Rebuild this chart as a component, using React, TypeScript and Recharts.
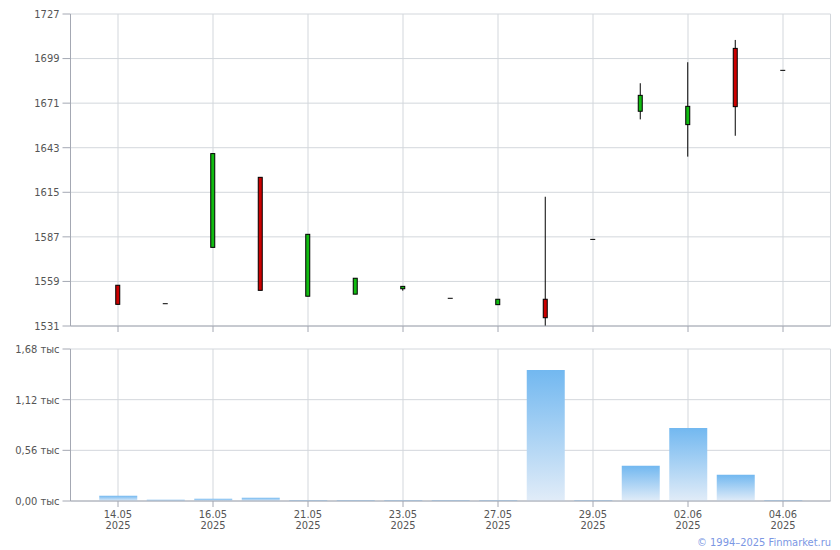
import { ComposedChart, Bar, XAxis, YAxis, CartesianGrid } from "recharts"

// 15 trading days, 14.05 – 04.06.2025
const dates = ["14.05", "15.05", "16.05", "20.05", "21.05", "22.05", "23.05", "26.05", "27.05", "28.05", "29.05", "30.05", "02.06", "03.06", "04.06"]
const year = "2025"
const opens = [1556.6, 1545, 1580.4, 1624.4, 1549.7, 1551, 1554.4, 1548.4, 1544.4, 1547.8, 1585.4, 1665.9, 1657.5, 1705.4, 1691.6]
const closes = [1544.6, 1545, 1639.3, 1553.4, 1588.6, 1561, 1555.9, 1548.4, 1547.8, 1536.2, 1585.4, 1675.9, 1669, 1668.8, 1691.6]
const highs = [1556.6, 1545, 1639.3, 1624.4, 1588.6, 1561, 1555.9, 1548.4, 1547.8, 1612.2, 1585.4, 1683.5, 1696.7, 1710.7, 1691.6]
const lows = [1544.6, 1545, 1580.4, 1553.4, 1549.7, 1551, 1553.2, 1548.4, 1544.4, 1531, 1585.4, 1660.8, 1637.4, 1650.5, 1691.6]
const volumes = [58, 14, 25, 36, 12, 12, 12, 12, 12, 1448, 12, 389, 808, 290, 12]

const priceTicks = [1531, 1559, 1587, 1615, 1643, 1671, 1699, 1727]
const volumeTicks = [0, 560, 1120, 1680]
const dateTicks = [1, 3, 5, 7, 9, 11, 13, 15]

const data = dates.map((d, i) => ({
  x: i + 1,
  open: opens[i],
  close: closes[i],
  high: highs[i],
  low: lows[i],
  range: [lows[i], highs[i]],
  volume: volumes[i],
}))

const FONT = "'DejaVu Sans Condensed', Tahoma, Verdana, sans-serif"
const AXIS = "#a4a8b3"
const GRID = "#d3d7dc"
const TEXT = "#555555"

const Candle = (props: any) => {
  const { x, y, width, height, payload } = props
  if (x == null || y == null) return null
  const { open, close, high, low } = payload
  const top = Math.min(y, y + height)
  const h = Math.abs(height)
  const span = high - low
  const toY = (v: number) => (span > 0 ? top + ((high - v) / span) * h : top)
  const cx = x + width / 2
  const bodyW = 4
  if (span === 0 && open === close) {
    return <line x1={cx - 2.5} x2={cx + 2.5} y1={top} y2={top} stroke="#000" strokeWidth={1} />
  }
  const bTop = toY(Math.max(open, close))
  const bBot = toY(Math.min(open, close))
  const up = close >= open
  return (
    <g>
      <line x1={cx} x2={cx} y1={toY(high)} y2={toY(low)} stroke="#000" strokeWidth={1} />
      <rect
        x={cx - bodyW / 2}
        y={bTop}
        width={bodyW}
        height={Math.max(bBot - bTop, 1)}
        fill={up ? "#11bb11" : "#cc0000"}
        stroke="#000"
        strokeWidth={1}
      />
    </g>
  )
}

const DateTick = (props: any) => {
  const { x, y, payload } = props
  return (
    <text x={x} y={y} textAnchor="middle" fill={TEXT} fontSize={11} fontFamily={FONT}>
      <tspan x={x} dy={8.5}>{dates[payload.value - 1]}</tspan>
      <tspan x={x} dy={11.5}>{year}</tspan>
    </text>
  )
}

const fmtVolume = (v: number) => (v / 1000).toFixed(2).replace(".", ",") + " тыс"

export default function App() {
  return (
    <div style={{ position: "absolute", left: 0, top: 0, width: 840, height: 550, background: "#fff" }}>
      <ComposedChart width={840} height={340} data={data} margin={{ top: 14, right: 9.5, bottom: 4, left: 0 }}>
        <CartesianGrid stroke={GRID} />
        <XAxis
          dataKey="x"
          type="number"
          domain={[0, 16]}
          ticks={dateTicks}
          tickFormatter={() => ""}
          height={10}
          stroke={AXIS}
          tickSize={6}
        />
        <YAxis
          type="number"
          domain={[1531, 1727]}
          ticks={priceTicks}
          width={70.5}
          stroke={AXIS}
          tickSize={8}
          tickMargin={3}
          allowDataOverflow
          tick={{ fill: TEXT, fontSize: 11, fontFamily: FONT }}
        />
        <Bar dataKey="range" barSize={5} shape={<Candle />} isAnimationActive={false} />
      </ComposedChart>
      <div style={{ position: "absolute", left: 0, top: 340 }}>
        <ComposedChart width={840} height={210} data={data} margin={{ top: 9, right: 9.5, bottom: 14, left: 0 }}>
          <defs>
            <linearGradient id="volGrad" x1="0" y1="0" x2="0" y2="1">
              <stop offset="0%" stopColor="#72b8f0" />
              <stop offset="100%" stopColor="#e1ecf8" />
            </linearGradient>
          </defs>
          <CartesianGrid stroke={GRID} />
          <XAxis
            dataKey="x"
            type="number"
            domain={[0, 16]}
            ticks={dateTicks}
            tick={<DateTick />}
            height={35}
            stroke={AXIS}
            tickSize={6}
          />
          <YAxis
            type="number"
            domain={[0, 1680]}
            ticks={volumeTicks}
            width={70.5}
            stroke={AXIS}
            tickSize={8}
            tickMargin={3}
            tickFormatter={fmtVolume}
            tick={{ fill: TEXT, fontSize: 11, fontFamily: FONT }}
          />
          <Bar dataKey="volume" barSize={38} fill="url(#volGrad)" isAnimationActive={false} />
        </ComposedChart>
      </div>
      <div
        style={{
          position: "absolute",
          right: 9,
          top: 536,
          fontSize: 11,
          fontFamily: FONT,
          color: "#7b97e4",
          whiteSpace: "nowrap",
        }}
      >
        © 1994–2025 Finmarket.ru
      </div>
    </div>
  )
}
